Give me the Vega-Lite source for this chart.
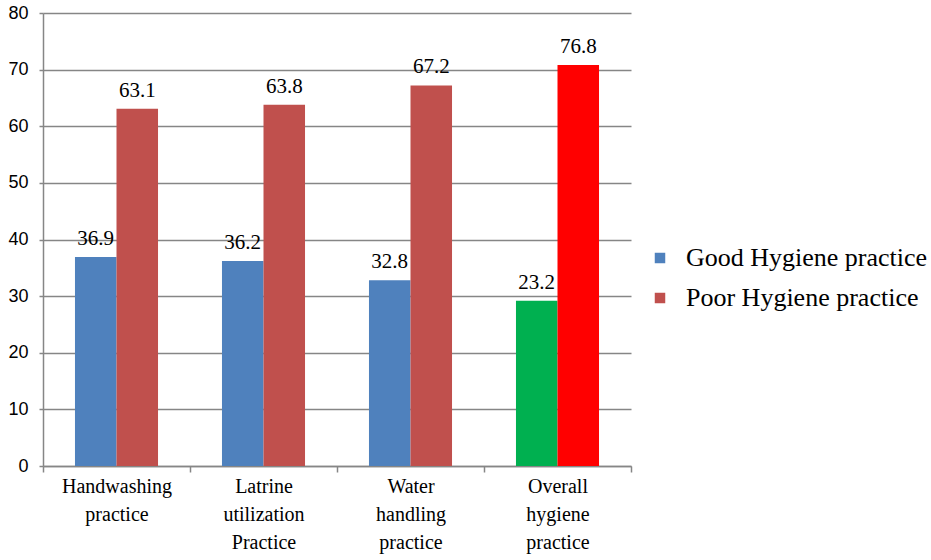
{
  "$schema": "https://vega.github.io/schema/vega-lite/v6.json",
  "width": 588,
  "height": 453,
  "autosize": "none",
  "padding": {"left": 43, "top": 13, "right": 300, "bottom": 94},
  "background": "white",
  "config": {
    "view": {"stroke": null},
    "axis": {
      "domainColor": "#868686",
      "tickColor": "#868686",
      "gridColor": "#868686",
      "domainWidth": 1.5,
      "tickWidth": 1.5,
      "gridWidth": 1.3,
      "labelColor": "black"
    }
  },
  "data": {
    "values": [
      {"practice": "Handwashing practice", "series": "Good Hygiene practice", "value": 36.9, "label": "36.9"},
      {"practice": "Handwashing practice", "series": "Poor Hygiene practice", "value": 63.1, "label": "63.1"},
      {"practice": "Latrine utilization Practice", "series": "Good Hygiene practice", "value": 36.2, "label": "36.2"},
      {"practice": "Latrine utilization Practice", "series": "Poor Hygiene practice", "value": 63.8, "label": "63.8"},
      {"practice": "Water handling practice", "series": "Good Hygiene practice", "value": 32.8, "label": "32.8"},
      {"practice": "Water handling practice", "series": "Poor Hygiene practice", "value": 67.2, "label": "67.2"},
      {"practice": "Overall hygiene practice", "series": "Good Hygiene practice", "value": 29.2, "label": "23.2"},
      {"practice": "Overall hygiene practice", "series": "Poor Hygiene practice", "value": 70.8, "label": "76.8"}
    ]
  },
  "encoding": {
    "x": {
      "field": "practice",
      "type": "nominal",
      "sort": null,
      "title": null,
      "scale": {"paddingInner": 0, "paddingOuter": 0},
      "axis": {
        "labelAngle": 0,
        "labelFont": "Liberation Serif",
        "labelFontSize": 20,
        "labelLineHeight": 28,
        "labelPadding": 4,
        "tickBand": "extent",
        "tickSize": 6,
        "labelExpr": "datum.value == 'Handwashing practice' ? ['Handwashing', 'practice'] : datum.value == 'Latrine utilization Practice' ? ['Latrine', 'utilization', 'Practice'] : datum.value == 'Water handling practice' ? ['Water', 'handling', 'practice'] : datum.value == 'Overall hygiene practice' ? ['Overall', 'hygiene', 'practice'] : ''"
      }
    },
    "xOffset": {
      "field": "series",
      "type": "nominal",
      "scale": {"paddingInner": 0, "paddingOuter": 0.77}
    },
    "y": {
      "field": "value",
      "type": "quantitative",
      "title": null,
      "scale": {"domain": [0, 80]},
      "axis": {
        "values": [0, 10, 20, 30, 40, 50, 60, 70, 80],
        "labelFont": "Liberation Sans",
        "labelFontSize": 18,
        "labelPadding": 11,
        "tickSize": 4,
        "grid": true
      }
    }
  },
  "layer": [
    {
      "mark": {"type": "bar"},
      "encoding": {
        "color": {
          "condition": [
            {"test": "datum.practice == 'Overall hygiene practice' && datum.series == 'Good Hygiene practice'", "value": "#00B050"},
            {"test": "datum.practice == 'Overall hygiene practice' && datum.series == 'Poor Hygiene practice'", "value": "#FF0000"}
          ],
          "field": "series",
          "type": "nominal",
          "scale": {"domain": ["Good Hygiene practice", "Poor Hygiene practice"], "range": ["#4F81BD", "#C0504D"]},
          "legend": {
            "title": null,
            "orient": "none",
            "legendX": 604,
            "legendY": 232,
            "symbolType": "square",
            "symbolSize": 110,
            "symbolStrokeWidth": 0,
            "labelFont": "Liberation Serif",
            "labelFontSize": 26,
            "labelOffset": 13,
            "rowPadding": 14,
            "labelLimit": 400
          }
        }
      }
    },
    {
      "mark": {"type": "text", "baseline": "bottom", "dy": -8, "font": "Liberation Serif", "fontSize": 21, "color": "black"},
      "encoding": {"text": {"field": "label", "type": "nominal"}}
    }
  ]
}
